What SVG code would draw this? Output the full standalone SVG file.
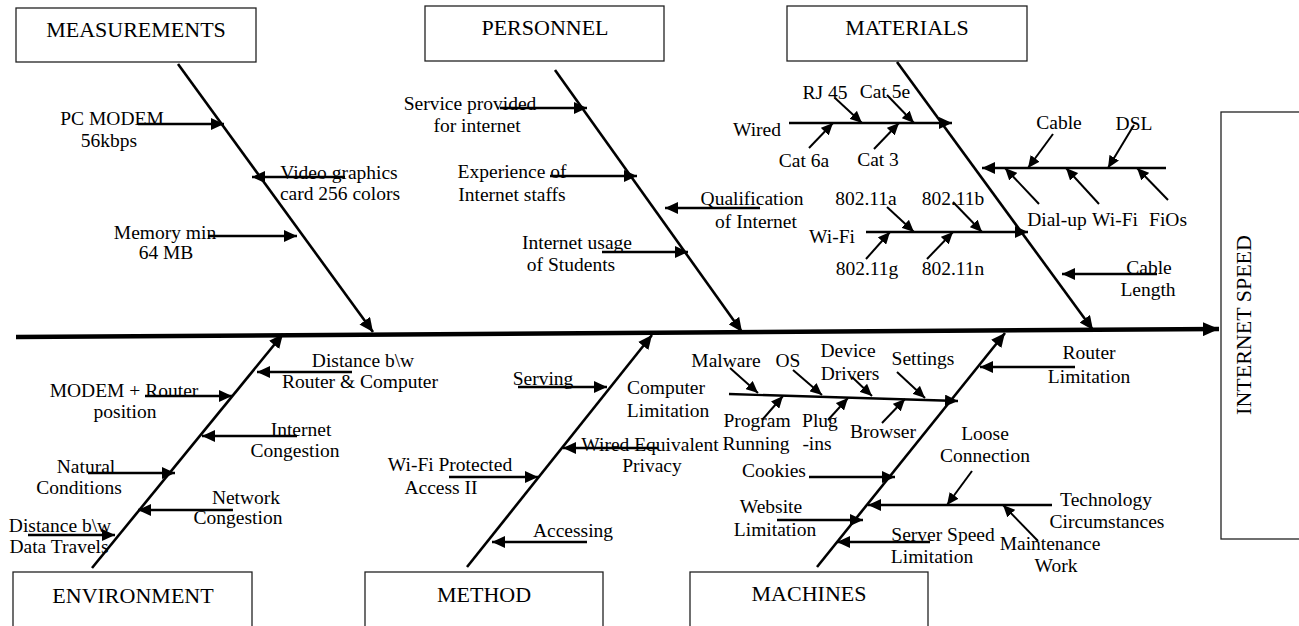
<svg xmlns="http://www.w3.org/2000/svg" width="1299" height="626" viewBox="0 0 1299 626">
  <defs>
    <style>
      .box { fill: #fff; stroke: #222; stroke-width: 1.3; }
      .hdr { font-family: "Liberation Serif", "Times New Roman", serif; font-size: 22px; text-anchor: middle; fill: #000; }
      .lbl { font-family: "Liberation Serif", "Times New Roman", serif; font-size: 19.5px; text-anchor: middle; fill: #000; }
      .spine { stroke: #000; stroke-width: 4.5; fill: none; marker-end: url(#hs); }
      .bone { stroke: #000; stroke-width: 2.6; fill: none; marker-end: url(#hb); }
      .sub { stroke: #000; stroke-width: 2.3; fill: none; marker-end: url(#ha); }
      .twig { stroke: #000; stroke-width: 2; fill: none; marker-end: url(#ht); }
    </style>
    <marker id="hs" viewBox="0 0 16 14" refX="16" refY="7" markerWidth="16" markerHeight="14" markerUnits="userSpaceOnUse" orient="auto">
      <path d="M0,0 L16,7 L0,14 z" fill="#000"/>
    </marker>
    <marker id="hb" viewBox="0 0 14 13" refX="14" refY="6.5" markerWidth="14" markerHeight="13" markerUnits="userSpaceOnUse" orient="auto">
      <path d="M0,0 L14,6.5 L0,13 z" fill="#000"/>
    </marker>
    <marker id="ha" viewBox="0 0 13 12" refX="13" refY="6" markerWidth="13" markerHeight="12" markerUnits="userSpaceOnUse" orient="auto">
      <path d="M0,0 L13,6 L0,12 z" fill="#000"/>
    </marker>
    <marker id="ht" viewBox="0 0 12 11" refX="12" refY="5.5" markerWidth="12" markerHeight="11" markerUnits="userSpaceOnUse" orient="auto">
      <path d="M0,0 L12,5.5 L0,11 z" fill="#000"/>
    </marker>
  </defs>

  <rect width="1299" height="626" fill="#fff"/>

  <!-- category boxes -->
  <g id="measurements">
    <rect class="box" x="16" y="8" width="240" height="54"/>
    <text class="hdr" x="136" y="37">MEASUREMENTS</text>
  </g>
  <g id="personnel">
    <rect class="box" x="425" y="6" width="239" height="55"/>
    <text class="hdr" x="545" y="35">PERSONNEL</text>
  </g>
  <g id="materials">
    <rect class="box" x="787" y="6" width="240" height="55"/>
    <text class="hdr" x="907" y="35">MATERIALS</text>
  </g>
  <g id="environment">
    <rect class="box" x="13" y="572" width="239" height="70"/>
    <text class="hdr" x="133" y="603">ENVIRONMENT</text>
  </g>
  <g id="method">
    <rect class="box" x="365" y="572" width="238" height="70"/>
    <text class="hdr" x="484" y="602">METHOD</text>
  </g>
  <g id="machines">
    <rect class="box" x="690" y="572" width="238" height="70"/>
    <text class="hdr" x="809" y="601">MACHINES</text>
  </g>
  <g id="internet-speed">
    <rect class="box" x="1221" y="112" width="100" height="427"/>
    <text class="hdr" transform="translate(1251,325) rotate(-90)">INTERNET SPEED</text>
  </g>

  <!-- connectors -->
  <g id="connectors">
    <line class="spine" x1="16" y1="337" x2="1219" y2="329"/>

    <line class="bone" x1="178" y1="64" x2="373" y2="332"/>
    <line class="bone" x1="555" y1="70" x2="742" y2="332"/>
    <line class="bone" x1="897" y1="62" x2="1093" y2="330"/>
    <line class="bone" x1="92" y1="568" x2="283" y2="334"/>
    <line class="bone" x1="467" y1="567" x2="652" y2="335"/>
    <line class="bone" x1="817" y1="567" x2="1005" y2="333"/>

    <!-- measurements -->
    <line class="sub" x1="138" y1="124" x2="224" y2="124"/>
    <line class="sub" x1="345" y1="177" x2="252" y2="177"/>
    <line class="sub" x1="208" y1="236" x2="297" y2="236"/>

    <!-- personnel -->
    <line class="sub" x1="500" y1="108" x2="587" y2="108"/>
    <line class="sub" x1="550" y1="176" x2="637" y2="176"/>
    <line class="sub" x1="760" y1="208" x2="665" y2="208"/>
    <line class="sub" x1="602" y1="252" x2="688" y2="252"/>

    <!-- materials: wired -->
    <line class="sub" x1="789" y1="123" x2="952" y2="123"/>
    <line class="twig" x1="835" y1="98" x2="862" y2="123"/>
    <line class="twig" x1="887" y1="95" x2="914" y2="123"/>
    <line class="twig" x1="809" y1="148" x2="833" y2="123"/>
    <line class="twig" x1="874" y1="149" x2="899" y2="123"/>
    <!-- materials: connection type -->
    <line class="sub" x1="1166" y1="168" x2="982" y2="168"/>
    <line class="twig" x1="1053" y1="134" x2="1028" y2="168"/>
    <line class="twig" x1="1134" y1="125" x2="1108" y2="168"/>
    <line class="twig" x1="1039" y1="204" x2="1005" y2="168"/>
    <line class="twig" x1="1099" y1="204" x2="1066" y2="168"/>
    <line class="twig" x1="1168" y1="200" x2="1137" y2="168"/>
    <!-- materials: wi-fi -->
    <line class="sub" x1="866" y1="232" x2="1028" y2="232"/>
    <line class="twig" x1="887" y1="207" x2="914" y2="232"/>
    <line class="twig" x1="953" y1="202" x2="982" y2="232"/>
    <line class="twig" x1="866" y1="259" x2="890" y2="232"/>
    <line class="twig" x1="927" y1="259" x2="953" y2="232"/>
    <line class="sub" x1="1157" y1="274" x2="1062" y2="274"/>

    <!-- environment -->
    <line class="sub" x1="352" y1="372" x2="257" y2="372"/>
    <line class="sub" x1="145" y1="396" x2="232" y2="396"/>
    <line class="sub" x1="297" y1="436" x2="202" y2="436"/>
    <line class="sub" x1="88" y1="473" x2="175" y2="473"/>
    <line class="sub" x1="233" y1="510" x2="138" y2="510"/>
    <line class="sub" x1="28" y1="535" x2="115" y2="535"/>

    <!-- method -->
    <line class="sub" x1="518" y1="387" x2="607" y2="387"/>
    <line class="sub" x1="658" y1="448" x2="563" y2="448"/>
    <line class="sub" x1="449" y1="477" x2="538" y2="477"/>
    <line class="sub" x1="587" y1="542" x2="492" y2="542"/>

    <!-- machines -->
    <line class="sub" x1="729" y1="394" x2="958" y2="401"/>
    <line class="twig" x1="730" y1="368" x2="758" y2="393"/>
    <line class="twig" x1="793" y1="370" x2="822" y2="395"/>
    <line class="twig" x1="852" y1="377" x2="872" y2="396"/>
    <line class="twig" x1="897" y1="372" x2="925" y2="398"/>
    <line class="twig" x1="762" y1="420" x2="783" y2="396"/>
    <line class="twig" x1="828" y1="420" x2="848" y2="398"/>
    <line class="twig" x1="882" y1="423" x2="905" y2="399"/>
    <line class="sub" x1="809" y1="477" x2="895" y2="477"/>
    <line class="sub" x1="777" y1="520" x2="863" y2="520"/>
    <line class="sub" x1="930" y1="542" x2="837" y2="542"/>
    <line class="sub" x1="1052" y1="505" x2="868" y2="505"/>
    <line class="twig" x1="972" y1="471" x2="947" y2="505"/>
    <line class="twig" x1="1038" y1="541" x2="1003" y2="505"/>
    <line class="sub" x1="1075" y1="367" x2="980" y2="367"/>
  </g>

  <!-- cause labels -->
  <g id="causes-measurements">
    <text class="lbl" x="112" y="125">PC MODEM</text>
    <text class="lbl" x="109" y="147">56kbps</text>
    <text class="lbl" x="339" y="179">Video graphics</text>
    <text class="lbl" x="340" y="200">card 256 colors</text>
    <text class="lbl" x="165" y="239">Memory min</text>
    <text class="lbl" x="166" y="259">64 MB</text>
  </g>
  <g id="causes-personnel">
    <text class="lbl" x="470" y="110">Service provided</text>
    <text class="lbl" x="477" y="132">for internet</text>
    <text class="lbl" x="512" y="178">Experience of</text>
    <text class="lbl" x="512" y="201">Internet staffs</text>
    <text class="lbl" x="752" y="205">Qualification</text>
    <text class="lbl" x="756" y="228">of Internet</text>
    <text class="lbl" x="577" y="249">Internet usage</text>
    <text class="lbl" x="571" y="271">of Students</text>
  </g>
  <g id="causes-materials">
    <text class="lbl" x="757" y="136">Wired</text>
    <text class="lbl" x="825" y="99">RJ 45</text>
    <text class="lbl" x="885" y="98">Cat 5e</text>
    <text class="lbl" x="804" y="167">Cat 6a</text>
    <text class="lbl" x="878" y="166">Cat 3</text>
    <text class="lbl" x="1059" y="129">Cable</text>
    <text class="lbl" x="1134" y="130">DSL</text>
    <text class="lbl" x="1057" y="226">Dial-up</text>
    <text class="lbl" x="1115" y="226">Wi-Fi</text>
    <text class="lbl" x="1168" y="226">FiOs</text>
    <text class="lbl" x="832" y="243">Wi-Fi</text>
    <text class="lbl" x="866" y="205">802.11a</text>
    <text class="lbl" x="953" y="205">802.11b</text>
    <text class="lbl" x="867" y="275">802.11g</text>
    <text class="lbl" x="953" y="275">802.11n</text>
    <text class="lbl" x="1149" y="274">Cable</text>
    <text class="lbl" x="1148" y="296">Length</text>
  </g>
  <g id="causes-environment">
    <text class="lbl" x="363" y="367">Distance b\w</text>
    <text class="lbl" x="360" y="388">Router &amp; Computer</text>
    <text class="lbl" x="124" y="397">MODEM + Router</text>
    <text class="lbl" x="125" y="418">position</text>
    <text class="lbl" x="301" y="436">Internet</text>
    <text class="lbl" x="295" y="457">Congestion</text>
    <text class="lbl" x="86" y="473">Natural</text>
    <text class="lbl" x="79" y="494">Conditions</text>
    <text class="lbl" x="246" y="504">Network</text>
    <text class="lbl" x="238" y="524">Congestion</text>
    <text class="lbl" x="60" y="532">Distance b\w</text>
    <text class="lbl" x="59" y="553">Data Travels</text>
  </g>
  <g id="causes-method">
    <text class="lbl" x="543" y="385">Serving</text>
    <text class="lbl" x="450" y="471">Wi-Fi Protected</text>
    <text class="lbl" x="441" y="494">Access II</text>
    <text class="lbl" x="650" y="451">Wired Equivalent</text>
    <text class="lbl" x="652" y="472">Privacy</text>
    <text class="lbl" x="573" y="537">Accessing</text>
  </g>
  <g id="causes-machines">
    <text class="lbl" x="666" y="394">Computer</text>
    <text class="lbl" x="668" y="417">Limitation</text>
    <text class="lbl" x="726" y="367">Malware</text>
    <text class="lbl" x="788" y="367">OS</text>
    <text class="lbl" x="848" y="357">Device</text>
    <text class="lbl" x="850" y="380">Drivers</text>
    <text class="lbl" x="923" y="365">Settings</text>
    <text class="lbl" x="757" y="427">Program</text>
    <text class="lbl" x="756" y="450">Running</text>
    <text class="lbl" x="820" y="427">Plug</text>
    <text class="lbl" x="817" y="450">-ins</text>
    <text class="lbl" x="883" y="438">Browser</text>
    <text class="lbl" x="774" y="477">Cookies</text>
    <text class="lbl" x="771" y="513">Website</text>
    <text class="lbl" x="775" y="536">Limitation</text>
    <text class="lbl" x="943" y="541">Server Speed</text>
    <text class="lbl" x="932" y="563">Limitation</text>
    <text class="lbl" x="985" y="440">Loose</text>
    <text class="lbl" x="985" y="462">Connection</text>
    <text class="lbl" x="1106" y="506">Technology</text>
    <text class="lbl" x="1107" y="528">Circumstances</text>
    <text class="lbl" x="1050" y="550">Maintenance</text>
    <text class="lbl" x="1056" y="572">Work</text>
    <text class="lbl" x="1089" y="359">Router</text>
    <text class="lbl" x="1089" y="383">Limitation</text>
  </g>
</svg>
